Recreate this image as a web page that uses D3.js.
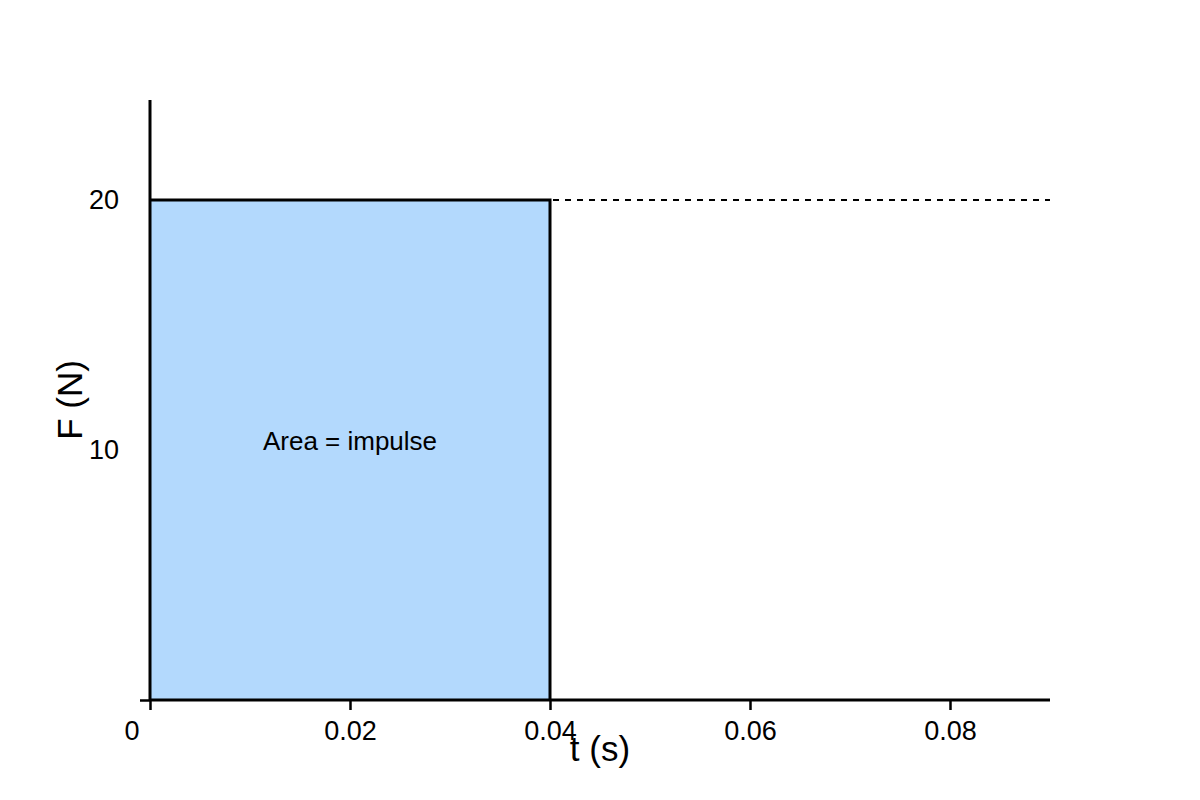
<!DOCTYPE html>
<html>
<head>
<meta charset="utf-8">
<script src="https://cdn.jsdelivr.net/npm/d3@7"></script>
<style>
body { margin: 0; background: #fff; }
text { font-family: "Liberation Sans", Arial, sans-serif; fill: #000; }
</style>
</head>
<body>
<script>
// data
var xTicks = [0.02, 0.04, 0.06, 0.08];
var xTickLabels = ["0.02", "0.04", "0.06", "0.08"];
var yTicks = [10, 20];
var yTickLabels = ["10", "20"];
var impulseT = [0, 0.04];   // force acts from t0 to t1
var impulseF = [20];        // constant force (N)
var dashedT = [0.04, 0.09];
var xDomain = [0, 0.09];
var yDomain = [0, 24];

var width = 1200, height = 800;
var svg = d3.select("body").append("svg")
    .attr("width", width)
    .attr("height", height);

var x = d3.scaleLinear().domain(xDomain).range([150, 1050]);
var y = d3.scaleLinear().domain(yDomain).range([700, 100]);

// shaded area
svg.append("rect")
    .attr("x", x(impulseT[0]))
    .attr("y", y(impulseF[0]))
    .attr("width", x(impulseT[1]) - x(impulseT[0]))
    .attr("height", y(0) - y(impulseF[0]))
    .attr("fill", "#b3d9fd");

// force line
var line = d3.line().x(function(d) { return x(d[0]); }).y(function(d) { return y(d[1]); });
svg.append("path")
    .attr("d", line([[impulseT[0], impulseF[0]], [impulseT[1], impulseF[0]], [impulseT[1], 0]]))
    .attr("fill", "none")
    .attr("stroke", "#000")
    .attr("stroke-width", 3);

// dashed continuation
svg.append("line")
    .attr("x1", x(dashedT[0]) + 3).attr("x2", x(dashedT[1]))
    .attr("y1", y(impulseF[0])).attr("y2", y(impulseF[0]))
    .attr("stroke", "#000")
    .attr("stroke-width", 2)
    .attr("stroke-dasharray", "6,6");

// axes
var xAxis = svg.append("g")
    .attr("transform", "translate(0," + y(0) + ")")
    .call(d3.axisBottom(x).tickValues([0].concat(xTicks)).tickSize(10)
        .tickFormat(function(d, i) { return i === 0 ? "" : xTickLabels[i - 1]; }));
xAxis.select(".domain").attr("stroke-width", 3).attr("d", "M" + x(0) + ",0H" + x(xDomain[1]));
xAxis.selectAll(".tick line").attr("stroke-width", 2.5);
xAxis.selectAll(".tick text").attr("font-size", 27).attr("dy", 0).attr("y", 40).attr("font-family", null);

var yAxis = svg.append("g")
    .attr("transform", "translate(" + x(0) + ",0)")
    .call(d3.axisLeft(y).tickValues([0]).tickSize(10).tickFormat(""));
yAxis.select(".domain").attr("stroke-width", 3).attr("d", "M0," + y(0) + "V" + y(yDomain[1]));
yAxis.selectAll(".tick line").attr("stroke-width", 2.5);

// y tick labels (no tick marks)
svg.selectAll(".ylab")
    .data(yTicks)
    .enter().append("text")
    .attr("class", "ylab")
    .attr("x", 104)
    .attr("y", function(d) { return y(d); })
    .attr("dy", "0.35em")
    .attr("text-anchor", "middle")
    .attr("font-size", 27)
    .text(function(d, i) { return yTickLabels[i]; });

// origin label
svg.append("text")
    .attr("x", 132).attr("y", 740)
    .attr("text-anchor", "middle")
    .attr("font-size", 27)
    .text("0");

// axis titles
svg.append("text")
    .attr("x", 600).attr("y", 761)
    .attr("text-anchor", "middle")
    .attr("font-size", 35)
    .text("t (s)");
svg.append("text")
    .attr("transform", "translate(82,400) rotate(-90)")
    .attr("text-anchor", "middle")
    .attr("font-size", 35)
    .text("F (N)");

// annotation
svg.append("text")
    .attr("x", x((impulseT[0] + impulseT[1]) / 2))
    .attr("y", 450)
    .attr("text-anchor", "middle")
    .attr("font-size", 26)
    .text("Area = impulse");
</script>
</body>
</html>
